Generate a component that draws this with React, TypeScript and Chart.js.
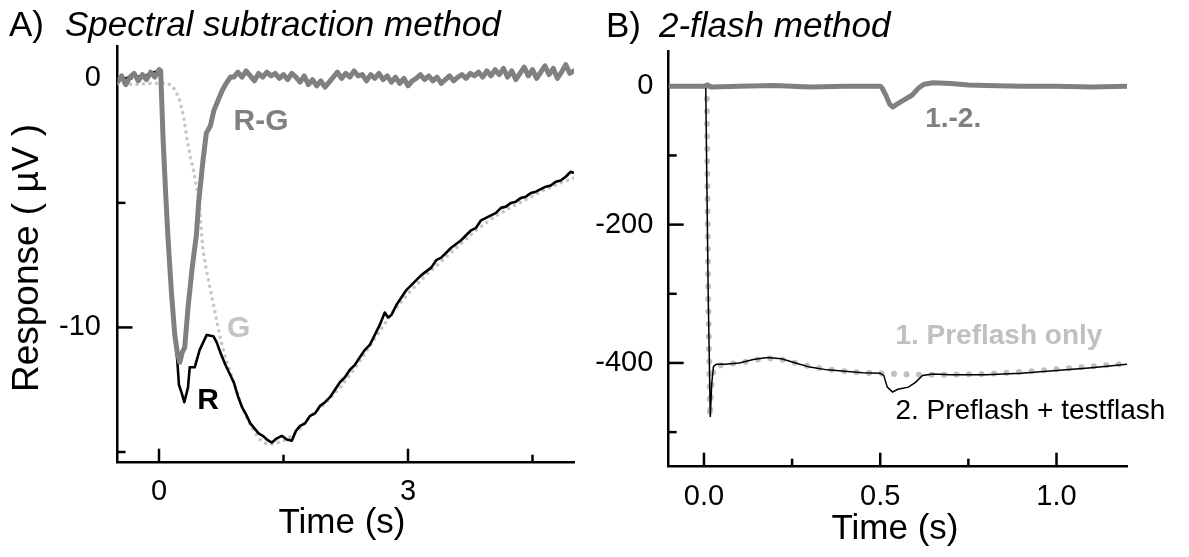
import React, { useEffect, useRef } from "react";
import { Chart, registerables } from "chart.js";

Chart.register(...registerables);

const FONT = '"Liberation Sans", Arial, Helvetica, sans-serif';

// ---------- Panel A: spectral subtraction (time in s, response in µV) ----------
const aTimeRG = [
  -0.5, -0.45, -0.4, -0.35, -0.3, -0.25, -0.2, -0.15, -0.1, -0.05, 0, 0.02,
  0.05, 0.08, 0.11, 0.15, 0.19, 0.22, 0.25, 0.28, 0.31, 0.35, 0.4, 0.45, 0.48,
  0.53, 0.57, 0.62, 0.66, 0.71, 0.76, 0.81, 0.86,
  0.9, 0.95, 1.0, 1.05, 1.1, 1.15, 1.2, 1.25, 1.3, 1.35, 1.4, 1.45, 1.5, 1.55,
  1.6, 1.65, 1.7, 1.75, 1.8, 1.85, 1.9, 1.95, 2.0, 2.05, 2.1, 2.15, 2.2, 2.25,
  2.3, 2.35, 2.4, 2.45, 2.5, 2.55, 2.6, 2.65, 2.7, 2.75, 2.8, 2.85, 2.9, 2.95,
  3.0, 3.05, 3.1, 3.15, 3.2, 3.25, 3.3, 3.35, 3.4, 3.45, 3.5, 3.55, 3.6, 3.65,
  3.7, 3.75, 3.8, 3.85, 3.9, 3.95, 4.0, 4.05, 4.1, 4.15, 4.2, 4.25, 4.3, 4.35,
  4.4, 4.45, 4.5, 4.55, 4.6, 4.65, 4.7, 4.75, 4.8, 4.85, 4.9, 4.95, 5.0,
];
const aValRG = [
  -0.15, 0.1, -0.25, 0.05, 0.2, -0.1, 0.15, -0.05, 0.25, 0.05, 0.35, 0.3,
  -2.5, -4.6, -6.5, -8.6, -10.3, -11.0, -11.4, -11.0, -10.8, -9.2, -7.6, -6.3, -4.9,
  -3.3, -2.2, -1.9, -1.3, -0.9, -0.5, -0.2, 0.05,
  0.05, 0.25, 0.05, 0.3, 0.1, -0.1, 0.2, 0.05, 0.25, 0.1, 0.2, 0.0, 0.15, -0.05,
  0.2, 0.05, -0.15, 0.1, -0.25, -0.05, -0.3, -0.1, -0.35, -0.15, 0.05, 0.25, 0.0, 0.2,
  0.05, 0.3, 0.1, 0.15, -0.1, 0.15, 0.0, 0.2, -0.05, 0.1, -0.15, 0.05, -0.2, 0.0,
  -0.3, -0.1, 0.0, 0.15, -0.05, 0.1, -0.1, 0.05, -0.2, -0.05, 0.1, -0.1, 0.05, 0.15,
  0.0, 0.2, 0.1, 0.25, 0.05, 0.3, 0.1, 0.35, 0.15, 0.4, 0.05, 0.3, -0.05, 0.2,
  0.45, 0.1, 0.35, 0.0, 0.25, 0.5, 0.15, 0.4, 0.0, 0.25, 0.55, 0.2, 0.3,
];

const aTimeR = [
  -0.5, -0.4, -0.3, -0.2, -0.1, 0, 0.02, 0.05, 0.08, 0.11, 0.15, 0.19, 0.22,
  0.24, 0.27, 0.305, 0.35, 0.37, 0.43, 0.49, 0.575, 0.655, 0.695, 0.75, 0.8,
  0.85, 0.9, 0.95, 1.0, 1.05, 1.1, 1.15, 1.2, 1.25, 1.3, 1.36, 1.42, 1.48,
  1.54, 1.6, 1.65, 1.7, 1.76, 1.82, 1.88, 1.94, 2.0, 2.06, 2.12, 2.18, 2.24,
  2.3, 2.36, 2.42, 2.48, 2.54, 2.6, 2.66, 2.72, 2.76, 2.8, 2.86, 2.92, 2.98,
  3.04, 3.1, 3.16, 3.22, 3.28, 3.34, 3.4, 3.46, 3.52, 3.58, 3.64, 3.7, 3.76,
  3.82, 3.88, 3.94, 4.0, 4.06, 4.12, 4.18, 4.24, 4.3, 4.36, 4.42, 4.48, 4.54,
  4.6, 4.66, 4.72, 4.78, 4.84, 4.9, 4.96, 5.0,
];
const aValR = [
  -0.1, 0.0, 0.1, 0.05, 0.2, 0.3, 0.3, -2.5, -4.6, -6.5, -8.6, -10.3, -11.3,
  -12.3, -12.6, -13.0, -12.4, -11.6, -11.6, -10.9, -10.3, -10.35, -10.6, -11.1, -11.5,
  -11.85, -12.2, -12.75, -13.2, -13.5, -13.85, -14.05, -14.25, -14.35, -14.5, -14.62, -14.45, -14.35,
  -14.5, -14.55, -14.15, -13.95, -13.85, -13.55, -13.45, -13.15, -13.0, -12.8, -12.5, -12.2, -12.0,
  -11.7, -11.5, -11.2, -10.9, -10.7, -10.3, -9.9, -9.4, -9.6, -9.5, -9.1, -8.8, -8.5,
  -8.3, -8.1, -7.9, -7.75, -7.6, -7.3, -7.2, -7.0, -6.8, -6.65, -6.5, -6.3, -6.1,
  -6.0, -5.7, -5.6, -5.5, -5.4, -5.2, -5.15, -5.0, -4.95, -4.8, -4.75, -4.6, -4.55,
  -4.45, -4.35, -4.3, -4.15, -4.1, -3.95, -3.75, -3.8,
];

const aTimeG = [
  -0.5, -0.3, -0.1, 0.0, 0.1, 0.16, 0.2, 0.25, 0.3, 0.34, 0.38, 0.41, 0.45,
  0.48, 0.53, 0.57, 0.62, 0.67, 0.71, 0.76, 0.8, 0.86, 0.92, 0.98, 1.04, 1.1,
  1.16, 1.22, 1.28, 1.34, 1.4, 1.5, 1.6, 1.7, 1.8, 1.9, 2.0, 2.2, 2.4, 2.6,
  2.8, 3.0, 3.2, 3.4, 3.6, 3.8, 4.0, 4.2, 4.4, 4.6, 4.8, 5.0,
];
const aValG = [
  -0.2, -0.25, -0.2, -0.2, -0.2, -0.3, -0.5, -0.9, -1.6, -2.5, -3.2, -3.6, -4.3,
  -4.9, -6.9, -7.7, -8.5, -9.3, -10.0, -10.7, -11.2, -11.8, -12.4, -13.0, -13.5, -13.9,
  -14.25, -14.5, -14.65, -14.7, -14.65, -14.55, -14.35, -14.05, -13.65, -13.35, -13.05, -12.35, -11.45, -10.45,
  -9.45, -8.65, -7.95, -7.35, -6.75, -6.15, -5.65, -5.25, -4.9, -4.55, -4.25, -4.0,
];

const aXMajor = [0, 3];
const aXMinor = [1.5, 4.5];
const aYMajor = [0, -10];
const aYMinor = [-5, -15];

// ---------- Panel B: 2-flash method (time in s, response in µV) ----------
const bTimeDiff = [
  -0.1, 0.0, 0.01, 0.02, 0.1, 0.2, 0.3, 0.4, 0.5, 0.505, 0.515, 0.527, 0.535,
  0.55, 0.57, 0.59, 0.61, 0.625, 0.65, 0.7, 0.75, 0.8, 0.9, 1.0, 1.1, 1.2,
];
const bValDiff = [
  0, 0, 2, -1, 0, 1, -1, 0, 0, -2, -12, -26, -30,
  -25, -19, -13, -2, 3, 5, 4, 2, 1, 0, 0, -1, 0,
];

const bTimePre = [
  0.008, 0.012, 0.017, 0.022, 0.03, 0.06, 0.1, 0.14, 0.18, 0.22, 0.26, 0.3,
  0.35, 0.4, 0.45, 0.5, 0.55, 0.6, 0.65, 0.7, 0.8, 0.9, 1.0, 1.1, 1.2,
];
const bValPre = [
  0, -300, -478, -425, -405, -402, -400, -396, -393, -395, -400, -405,
  -409, -412, -414, -415, -416, -417, -417, -417, -416, -413, -409, -405, -401,
];

const bTimeBoth = [
  -0.1, 0.005, 0.012, 0.018, 0.022, 0.027, 0.035, 0.06, 0.1, 0.14, 0.18, 0.22,
  0.26, 0.3, 0.35, 0.4, 0.45, 0.5, 0.51, 0.52, 0.535, 0.55, 0.58, 0.6, 0.62,
  0.65, 0.7, 0.8, 0.9, 1.0, 1.1, 1.2,
];
const bValBoth = [
  0, 0, -300, -478, -430, -405, -402, -402, -400, -395, -392, -394,
  -400, -406, -410, -412, -414, -415, -418, -435, -442, -438, -435, -428, -418,
  -416, -417, -417, -415, -411, -407, -402,
];

const bXMajor = [0, 0.5, 1.0];
const bXMinor = [0.25, 0.75];
const bYMajor = [0, -200, -400];
const bYMinor = [-100, -300, -500];

const pts = (xs: number[], ys: number[]) => xs.map((x, i) => ({ x, y: ys[i] }));

type Note = { text: string; x: number; y: number; color: string; bold?: boolean; align?: CanvasTextAlign; size: number };
type PanelCfg = {
  key: string;
  xMajor: number[];
  xMinor: number[];
  yMajor: number[];
  yMinor: number[];
  label: string;
  heading: string;
  labelX: number;
  headingX: number;
  baseline: number;
  xTitle: { text: string; x: number; y: number };
  yTitle?: { text: string; x: number; y: number; size: number };
  notes: Note[];
};

function makePanelPlugin(cfg: PanelCfg) {
  return {
    id: "panel" + cfg.key,
    beforeDatasetsDraw(chart: any) {
      const { ctx, chartArea: ca, scales } = chart;
      const xs = scales.x;
      const ys = scales.y;
      ctx.save();
      ctx.strokeStyle = "#000";
      ctx.lineWidth = 2.5;
      ctx.lineCap = "butt";
      const yTick = (v: number, len: number) => {
        const p = ys.getPixelForValue(v);
        ctx.beginPath();
        ctx.moveTo(ca.left, p);
        ctx.lineTo(ca.left + len, p);
        ctx.stroke();
      };
      const xTick = (v: number, len: number) => {
        const p = xs.getPixelForValue(v);
        ctx.beginPath();
        ctx.moveTo(p, ca.bottom);
        ctx.lineTo(p, ca.bottom - len);
        ctx.stroke();
      };
      cfg.yMajor.forEach((v) => yTick(v, 15));
      cfg.yMinor.forEach((v) => yTick(v, 8));
      cfg.xMajor.forEach((v) => xTick(v, 14));
      cfg.xMinor.forEach((v) => xTick(v, 8));
      ctx.restore();
    },
    afterDatasetsDraw(chart: any) {
      const { ctx, scales } = chart;
      ctx.save();
      ctx.textBaseline = "middle";
      cfg.notes.forEach((n) => {
        ctx.font = `${n.bold ? "bold " : ""}${n.size}px ${FONT}`;
        ctx.fillStyle = n.color;
        ctx.textAlign = n.align || "center";
        ctx.fillText(n.text, scales.x.getPixelForValue(n.x), scales.y.getPixelForValue(n.y));
      });
      ctx.restore();
    },
    afterDraw(chart: any) {
      const { ctx } = chart;
      ctx.save();
      ctx.fillStyle = "#000";
      ctx.textBaseline = "alphabetic";
      ctx.textAlign = "left";
      ctx.font = `35px ${FONT}`;
      ctx.fillText(cfg.label, cfg.labelX, cfg.baseline);
      ctx.font = `italic 35px ${FONT}`;
      ctx.fillText(cfg.heading, cfg.headingX, cfg.baseline);
      // axis titles
      ctx.font = `35px ${FONT}`;
      ctx.textAlign = "center";
      ctx.textBaseline = "middle";
      ctx.fillText(cfg.xTitle.text, cfg.xTitle.x, cfg.xTitle.y);
      if (cfg.yTitle) {
        ctx.font = `${cfg.yTitle.size}px ${FONT}`;
        ctx.translate(cfg.yTitle.x, cfg.yTitle.y);
        ctx.rotate(-Math.PI / 2);
        ctx.fillText(cfg.yTitle.text, 0, 0);
      }
      ctx.restore();
    },
  };
}

function buildOptions(o: {
  xMin: number; xMax: number; yMin: number; yMax: number;
  xMajor: number[]; yMajor: number[];
  xFmt: (v: number) => string; yFmt: (v: number) => string;
  padding: any; yWidth: number; xHeight: number;
  yTickPad: number; xTickPad: number;
}) {
  return {
    responsive: false,
    animation: false as const,
    events: [] as any[],
    layout: { padding: o.padding },
    plugins: { legend: { display: false }, tooltip: { enabled: false }, title: { display: false } },
    elements: { point: { radius: 0 }, line: { tension: 0 } },
    scales: {
      x: {
        type: "linear" as const,
        min: o.xMin,
        max: o.xMax,
        grid: { display: false, drawTicks: false },
        border: { display: true, color: "#000", width: 2.5 },
        afterBuildTicks: (s: any) => { s.ticks = o.xMajor.map((v) => ({ value: v })); },
        afterFit: (s: any) => { s.height = o.xHeight; },
        ticks: {
          autoSkip: false, maxRotation: 0, padding: o.xTickPad, color: "#000",
          font: { family: FONT, size: 29 },
          callback: (v: any) => o.xFmt(Number(v)),
        },
      },
      y: {
        type: "linear" as const,
        min: o.yMin,
        max: o.yMax,
        grid: { display: false, drawTicks: false },
        border: { display: true, color: "#000", width: 2.5 },
        afterBuildTicks: (s: any) => { s.ticks = o.yMajor.map((v) => ({ value: v })); },
        afterFit: (s: any) => { s.width = o.yWidth; },
        ticks: {
          autoSkip: false, padding: o.yTickPad, color: "#000",
          font: { family: FONT, size: 29 },
          callback: (v: any) => o.yFmt(Number(v)),
        },
      },
    },
  };
}

export default function App() {
  const refA = useRef<HTMLCanvasElement>(null);
  const refB = useRef<HTMLCanvasElement>(null);

  useEffect(() => {
    const chartA = new Chart(refA.current as HTMLCanvasElement, {
      type: "line",
      data: {
        datasets: [
          { label: "R-G", data: pts(aTimeRG, aValRG), borderColor: "#808080", borderWidth: 5, borderJoinStyle: "round", borderCapStyle: "round" },
          { label: "R", data: pts(aTimeR, aValR), borderColor: "#000000", borderWidth: 2.6, borderJoinStyle: "round" },
          { label: "G", data: pts(aTimeG, aValG), borderColor: "#c6c6c6", borderWidth: 3.5, borderDash: [0.01, 6.5], borderCapStyle: "round" },
        ],
      },
      options: buildOptions({
        xMin: -0.5, xMax: 5.0, yMin: -15.43, yMax: 1.27,
        xMajor: aXMajor, yMajor: aYMajor,
        xFmt: (v) => String(v), yFmt: (v) => String(v),
        padding: { left: 0, top: 46.7, right: 16, bottom: 4.3 },
        yWidth: 117.5, xHeight: 90, yTickPad: 16.5, xTickPad: 11.5,
      }) as any,
      plugins: [
        makePanelPlugin({
          key: "A", xMajor: aXMajor, xMinor: aXMinor, yMajor: aYMajor, yMinor: aYMinor,
          label: "A)", heading: "Spectral subtraction method", labelX: 9, headingX: 65, baseline: 36,
          xTitle: { text: "Time (s)", x: 342, y: 523 },
          yTitle: { text: "Response ( µV )", x: 28, y: 258, size: 37 },
          notes: [
            { text: "R-G", x: 1.23, y: -1.75, color: "#808080", bold: true, size: 30 },
            { text: "G", x: 0.96, y: -10.05, color: "#c4c4c4", bold: true, size: 30 },
            { text: "R", x: 0.59, y: -12.95, color: "#000000", bold: true, size: 30 },
          ],
        }),
      ],
    });

    const chartB = new Chart(refB.current as HTMLCanvasElement, {
      type: "line",
      data: {
        datasets: [
          { label: "1.-2.", data: pts(bTimeDiff, bValDiff), borderColor: "#808080", borderWidth: 5, borderJoinStyle: "round", borderCapStyle: "round" },
          { label: "2. Preflash + testflash", data: pts(bTimeBoth, bValBoth), borderColor: "#000000", borderWidth: 1.5 },
          { label: "1. Preflash only", data: pts(bTimePre, bValPre), borderColor: "#c0c0c0", borderWidth: 6, borderDash: [0.01, 12.5], borderCapStyle: "round" },
        ],
      },
      options: buildOptions({
        xMin: -0.1, xMax: 1.2, yMin: -550, yMax: 50,
        xMajor: bXMajor, yMajor: bYMajor,
        xFmt: (v) => v.toFixed(1), yFmt: (v) => String(v),
        padding: { left: 0, top: 51.7, right: 62, bottom: 0.3 },
        yWidth: 78.7, xHeight: 90, yTickPad: 15.4, xTickPad: 12.5,
      }) as any,
      plugins: [
        makePanelPlugin({
          key: "B", xMajor: bXMajor, xMinor: bXMinor, yMajor: bYMajor, yMinor: bYMinor,
          label: "B)", heading: "2-flash method", labelX: 16, headingX: 69, baseline: 37,
          xTitle: { text: "Time (s)", x: 305, y: 529 },
          notes: [
            { text: "1.-2.", x: 0.707, y: -48, color: "#808080", bold: true, size: 28 },
            { text: "1. Preflash only", x: 0.543, y: -361, color: "#c0c0c0", bold: true, size: 28, align: "left" },
            { text: "2. Preflash + testflash", x: 0.543, y: -470, color: "#000000", size: 28, align: "left" },
          ],
        }),
      ],
    });

    return () => {
      chartA.destroy();
      chartB.destroy();
    };
  }, []);

  return (
    <div style={{ position: "absolute", left: 0, top: 0, width: 1189, height: 557, background: "#fff" }}>
      <canvas ref={refA} width={590} height={557} style={{ position: "absolute", left: 0, top: 0, width: 590, height: 557 }} />
      <canvas ref={refB} width={599} height={557} style={{ position: "absolute", left: 590, top: 0, width: 599, height: 557 }} />
    </div>
  );
}
